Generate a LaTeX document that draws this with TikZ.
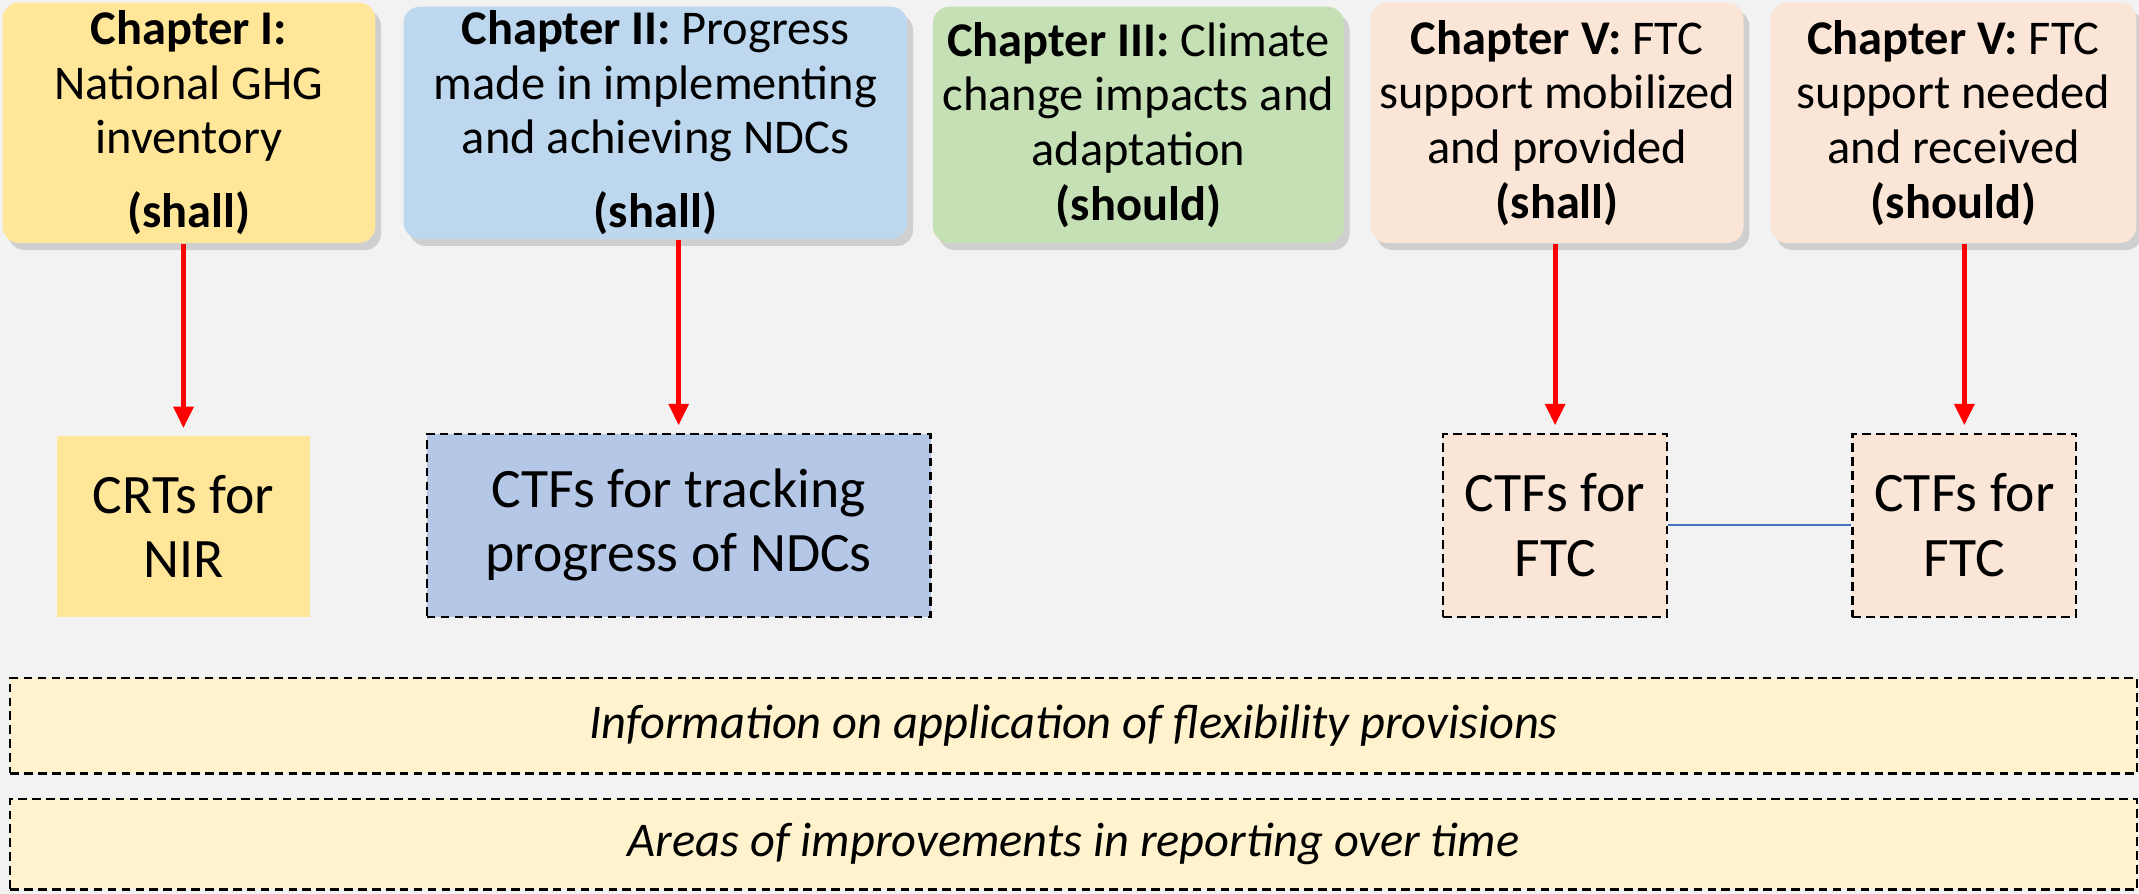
\documentclass[tikz,border=0pt]{standalone}
\usepackage{fontspec}
\setmainfont{Carlito}
\usetikzlibrary{arrows.meta,shadows}
\definecolor{chyellow}{HTML}{FFE699}
\definecolor{chblue}{HTML}{BDD7EE}
\definecolor{ctfblue}{HTML}{B4C7E7}
\definecolor{chgreen}{HTML}{C5E0B4}
\definecolor{chpeach}{HTML}{FBE5D6}
\definecolor{bandyellow}{HTML}{FFF2CC}
\definecolor{bggray}{HTML}{F2F2F2}
\definecolor{linkblue}{HTML}{4472C4}
\tikzset{
	chapter/.style={rounded corners=0.12cm, align=center, inner sep=0pt, font=\fontsize{10.1}{11.4}\selectfont, drop shadow={shadow xshift=1.2pt, shadow yshift=-1.5pt, opacity=0.3}},
	ctf/.style={align=center, inner sep=0pt, font=\fontsize{11.6}{13.4}\selectfont},
	dashbox/.style={draw=black, line width=0.45pt, dash pattern=on 1.8pt off 1.1pt},
	band/.style={dashbox, fill=bandyellow, minimum width=15.58cm, inner sep=0pt, font=\fontsize{10.1}{12}\selectfont\itshape},
	redarrow/.style={red, line width=1.1pt, -{Triangle[width=4pt,length=4.5pt]}, shorten >=1.5pt},
}
\begin{document}
\begin{tikzpicture}[x=0.01cm, y=-0.01cm]
		\fill[bggray] (0,0) rectangle (1568,655);
		\useasboundingbox (0,0) rectangle (1568,655);
		% chapters
		\node[chapter, fill=chyellow, minimum width=2.73cm, minimum height=1.76cm] (ch1) at (138.5,90) {\textbf{Chapter I:}\\National GHG\\inventory\\[4pt]\textbf{(shall)}};
		\node[chapter, fill=chblue, minimum width=3.69cm, minimum height=1.70cm] (ch2) at (480.5,90) {\textbf{Chapter II:} Progress\\made in implementing\\and achieving NDCs\\[4pt]\textbf{(shall)}};
		\node[chapter, fill=chgreen, minimum width=3.01cm, minimum height=1.73cm] (ch3) at (834.5,91.5) {\textbf{Chapter III:} Climate\\change impacts and\\adaptation\\\textbf{(should)}};
		\node[chapter, fill=chpeach, minimum width=2.73cm, minimum height=1.76cm] (ch5a) at (1141.5,90) {\textbf{Chapter V:} FTC\\support mobilized\\and provided\\\textbf{(shall)}};
		\node[chapter, fill=chpeach, minimum width=2.68cm, minimum height=1.76cm] (ch5b) at (1432,90) {\textbf{Chapter V:} FTC\\support needed\\and received\\\textbf{(should)}};
		% tables
		\node[ctf, fill=chyellow, minimum width=1.85cm, minimum height=1.32cm] (crt) at (134.5,386) {CRTs for\\NIR};
		\node[ctf, dashbox, fill=ctfblue, minimum width=3.69cm, minimum height=1.34cm] (ndc) at (497.5,385) {CTFs for tracking\\progress of NDCs};
		\node[ctf, dashbox, fill=chpeach, minimum width=1.64cm, minimum height=1.34cm] (ftca) at (1140,385) {CTFs for\\FTC};
		\node[ctf, dashbox, fill=chpeach, minimum width=1.64cm, minimum height=1.34cm] (ftcb) at (1440,385) {CTFs for\\FTC};
		\draw[linkblue, line width=0.4pt] (ftca.east) -- (ftcb.west);
		% arrows
		\draw[redarrow] (crt.north |- ch1.south) -- (crt.north);
		\draw[redarrow] (ndc.north |- ch2.south) -- (ndc.north);
		\draw[redarrow] (ftca.north |- ch5a.south) -- (ftca.north);
		\draw[redarrow] (ftcb.north |- ch5b.south) -- (ftcb.north);
		% bands
		\node[band, minimum height=0.70cm] (flex) at (787,532) {Information on application of flexibility provisions};
		\node[band, minimum height=0.66cm] (impr) at (787,619) {Areas of improvements in reporting over time};
\end{tikzpicture}
\end{document}
